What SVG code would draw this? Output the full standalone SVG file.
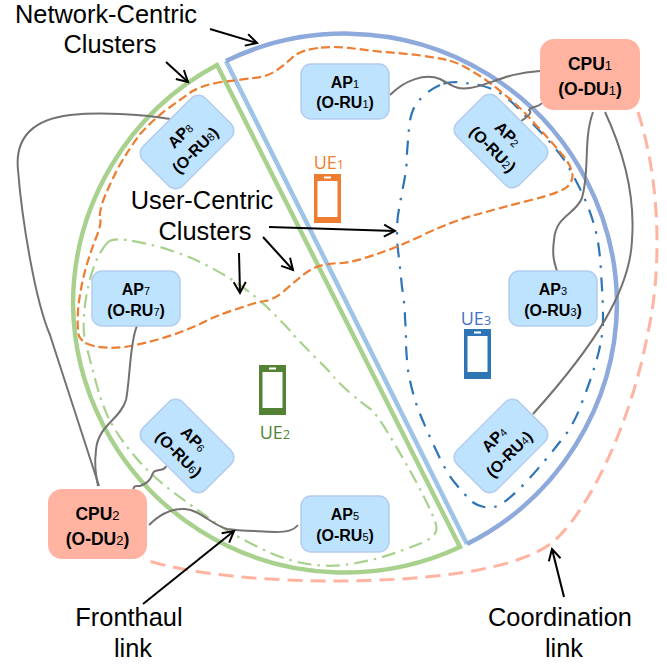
<svg xmlns="http://www.w3.org/2000/svg" width="667" height="664" viewBox="0 0 667 664">
<style>
text{font-family:"Liberation Sans",Arial,sans-serif;text-anchor:middle}
.lab{font-size:25.400px;fill:#000}
.ap rect{fill:#BDE3FF;stroke:#B4CDEE;stroke-width:1.5}
.ap text{font-size:16px;font-weight:bold;fill:#000}
.cpu rect{fill:#FFB3A0}
.cpu text{font-size:17.500px;font-weight:bold;fill:#000}
.s{font-size:11px;font-weight:normal}
.cpu .s{font-size:13px}
.ue{font-family:"Open Sans",sans-serif;font-size:18px}
.ue .s{font-size:13px}
.fh{fill:none;stroke:#767171;stroke-width:2}
.ar{fill:none;stroke:#000;stroke-width:2;marker-end:url(#open)}
.uc{fill:none;stroke-width:2.2}
.scr{fill:#fff}
</style>
<defs>
<marker id="open" markerUnits="userSpaceOnUse" markerWidth="16" markerHeight="16" refX="13" refY="8" orient="auto"><path d="M2,2 L13,8 L2,14" fill="none" stroke="#000" stroke-width="2"/></marker>
</defs>
<g id="clusters">
<path d="M226,61 L467,544" fill="none" stroke="#9DC3E6" stroke-width="4.500"/>
<path id="nc-blue" d="M226,61 A272,272 0 0 1 617,304 A272,272 0 0 1 467,544" fill="none" stroke="#8EA9DB" stroke-width="4.500"/>
<path id="nc-green" d="M217,65 L460,547 A272,272 0 0 1 73,304 A272,272 0 0 1 217,65 Z" fill="none" stroke="#A9D18E" stroke-width="4.500"/>
<path id="uc-green" class="uc" stroke="#A9D18E" stroke-dasharray="14 6 2.500 6" d="M108,242 Q103,247 98,257 Q93,267 89,283 Q85,300 84,315 Q83,330 85,341 Q88,352 94,375 Q100,399 108,417 Q117,435 132,453 Q147,472 173,492 Q200,512 216,523 Q233,535 258,547 Q283,560 308,564 Q333,568 356,563 Q380,559 403,550 Q426,542 432,537 Q438,532 436,525 Q435,519 424,497 Q413,475 394,443 Q376,412 369,408 Q363,404 349,392 Q336,380 334,377 Q333,375 315,357 Q297,339 292,333 Q287,327 272,312 Q257,297 237,283 Q217,270 198,261 Q180,253 160,247 Q140,242 127,240 Q113,238 108,242 Z"/>
<path id="uc-blue" class="uc" stroke="#2E75B6" stroke-dasharray="14 9 2.500 9" d="M440,85 Q433,88 424,95 Q416,103 413,110 Q410,117 409,128 Q408,140 407,153 Q407,167 404,182 Q401,197 398,215 Q396,233 398,250 Q400,267 402,287 Q405,307 405,318 Q406,330 406,341 Q406,352 408,370 Q411,389 418,409 Q426,429 436,450 Q446,472 455,483 Q465,495 470,500 Q475,505 484,507 Q493,509 501,504 Q510,499 528,480 Q546,460 559,443 Q573,427 581,405 Q590,382 595,365 Q600,349 601,340 Q603,332 603,316 Q603,300 601,273 Q600,247 595,228 Q590,210 583,195 Q576,180 569,168 Q563,157 554,147 Q546,137 529,120 Q513,102 503,95 Q493,88 479,85 Q466,83 456,82 Q446,82 440,85 Z"/>
<path id="uc-orange" class="uc" stroke="#ED7D31" stroke-dasharray="9 4" d="M318,48 Q302,50 294,56 Q287,63 277,70 Q267,77 253,78 Q240,80 221,82 Q203,85 191,92 Q180,100 166,110 Q153,120 141,133 Q130,147 118,168 Q107,190 103,201 Q99,213 100,218 Q102,223 96,238 Q90,253 85,271 Q80,290 78,310 Q77,330 79,336 Q82,343 94,346 Q107,349 125,347 Q143,344 163,338 Q183,332 200,324 Q217,315 237,309 Q257,302 265,301 Q273,300 283,292 Q293,283 303,275 Q313,267 323,265 Q333,263 343,263 Q353,262 374,255 Q396,248 423,235 Q450,222 475,215 Q500,208 531,200 Q563,192 568,186 Q574,180 572,172 Q570,163 560,152 Q550,140 535,124 Q520,107 505,95 Q490,82 475,73 Q460,63 447,60 Q433,57 417,55 Q400,53 383,52 Q366,50 350,48 Q333,46 318,48 Z"/>
</g>
<g id="connectors">
<path class="fh" d="M390,95 C405,80 425,73 440,79 C452,85 455,90 470,88 C490,85 505,73 540,71"/>
<path class="fh" d="M542,103 C538,108 530,106 529,110 C533,113 527,117 521,121"/>
<path class="fh" d="M593,112 C583,140 590,170 582,198 C575,215 556,215 554,240 C552,255 554,262 557,271"/>
<path class="fh" d="M605,112 C625,155 635,200 632,240 C630,290 595,345 533,414"/>
<path class="fh" d="M170,119 C140,114 100,112 70,115 C30,120 15,140 18,170 C22,220 35,300 50,335 L99,486"/>
<path class="fh" d="M137,326 C130,340 130,380 126,400 C120,420 98,425 96,450 C94,465 96,475 98,486"/>
<path class="fh" d="M166,466 C165,472 155,468 153,473 C150,482 145,484 140,486 C136,486 134,485 133,490"/>
<path class="fh" d="M149,525 C160,514 172,508 185,509 C200,510 212,525 227,529 C240,531 260,531 275,532 C288,532 294,530 298,525"/>
<path id="coordination" fill="none" stroke="#FFB3A0" stroke-width="3" stroke-dasharray="15 8" d="M638,112 C663,190 660,280 648,332 C630,430 585,515 553,542 C515,572 420,581 333,581 C270,581 190,575 143,559"/>
<path class="ar" d="M210,29 L257,43"/>
<path class="ar" d="M166,62 L188,82"/>
<path class="ar" d="M269,227 L395,231"/>
<path class="ar" d="M263,237 L293,270"/>
<path class="ar" d="M239,253 L240,293"/>
<path class="ar" d="M143,604 L234,531"/>
<path class="ar" d="M564,597 L552,549"/>
</g>
<g id="ap1" class="ap"><rect x="301" y="64" width="88" height="55" rx="10"/><text x="345" y="88">AP<tspan class="s">1</tspan></text><text x="345" y="108">(O-RU<tspan class="s">1</tspan>)</text></g>
<g id="ap2" class="ap" transform="translate(501,141) rotate(45)"><rect x="-44" y="-28" width="88" height="56" rx="10"/><text y="-4">AP<tspan class="s">2</tspan></text><text y="17">(O-RU<tspan class="s">2</tspan>)</text></g>
<g id="ap3" class="ap"><rect x="509" y="271" width="88" height="55" rx="10"/><text x="553" y="295">AP<tspan class="s">3</tspan></text><text x="553" y="316">(O-RU<tspan class="s">3</tspan>)</text></g>
<g id="ap4" class="ap" transform="translate(501,446) rotate(-45)"><rect x="-44" y="-28" width="88" height="56" rx="10"/><text y="-4">AP<tspan class="s">4</tspan></text><text y="17">(O-RU<tspan class="s">4</tspan>)</text></g>
<g id="ap5" class="ap"><rect x="301" y="496" width="88" height="56" rx="10"/><text x="345" y="520">AP<tspan class="s">5</tspan></text><text x="345" y="541">(O-RU<tspan class="s">5</tspan>)</text></g>
<g id="ap6" class="ap" transform="translate(187,446) rotate(45)"><rect x="-44" y="-28" width="88" height="56" rx="10"/><text y="-4">AP<tspan class="s">6</tspan></text><text y="17">(O-RU<tspan class="s">6</tspan>)</text></g>
<g id="ap7" class="ap"><rect x="92" y="271" width="88" height="55" rx="10"/><text x="136" y="295">AP<tspan class="s">7</tspan></text><text x="136" y="316">(O-RU<tspan class="s">7</tspan>)</text></g>
<g id="ap8" class="ap" transform="translate(187,142) rotate(-45)"><rect x="-44" y="-28" width="88" height="56" rx="10"/><text y="-4">AP<tspan class="s">8</tspan></text><text y="17">(O-RU<tspan class="s">8</tspan>)</text></g>
<g id="cpu1" class="cpu"><rect x="540" y="39" width="100" height="71" rx="14"/><text x="590" y="70">CPU<tspan class="s">1</tspan></text><text x="590" y="95">(O-DU<tspan class="s">1</tspan>)</text></g>
<g id="cpu2" class="cpu"><rect x="48" y="489" width="99" height="70" rx="14"/><text x="97.500" y="520">CPU<tspan class="s">2</tspan></text><text x="97.500" y="545">(O-DU<tspan class="s">2</tspan>)</text></g>
<g id="ue1"><rect x="314" y="174" width="27" height="49" fill="#ED7D31"/><rect class="scr" x="317.500" y="181" width="20" height="36"/><rect class="scr" x="324" y="176.500" width="7" height="2"/><text class="ue" x="329" y="169" fill="#ED7D31">UE<tspan class="s">1</tspan></text></g>
<g id="ue2"><rect x="259" y="365" width="27" height="50" fill="#548235"/><rect class="scr" x="262.500" y="372" width="20" height="36"/><rect class="scr" x="269" y="367.500" width="7" height="2"/><text class="ue" x="275" y="439" fill="#548235">UE<tspan class="s">2</tspan></text></g>
<g id="ue3"><rect x="464" y="329" width="27" height="50" fill="#2E75B6"/><rect class="scr" x="467.500" y="336" width="20" height="36"/><rect class="scr" x="474" y="331.500" width="7" height="2"/><text class="ue" x="476" y="325" fill="#4472C4">UE<tspan class="s">3</tspan></text></g>
<g id="labels">
<text class="lab" x="106" y="23">Network-Centric</text>
<text class="lab" x="110" y="53">Clusters</text>
<text class="lab" x="202" y="209">User-Centric</text>
<text class="lab" x="205" y="240">Clusters</text>
<text class="lab" x="129" y="626">Fronthaul</text>
<text class="lab" x="133" y="657">link</text>
<text class="lab" x="560" y="626">Coordination</text>
<text class="lab" x="564" y="657">link</text>
</g>
</svg>
